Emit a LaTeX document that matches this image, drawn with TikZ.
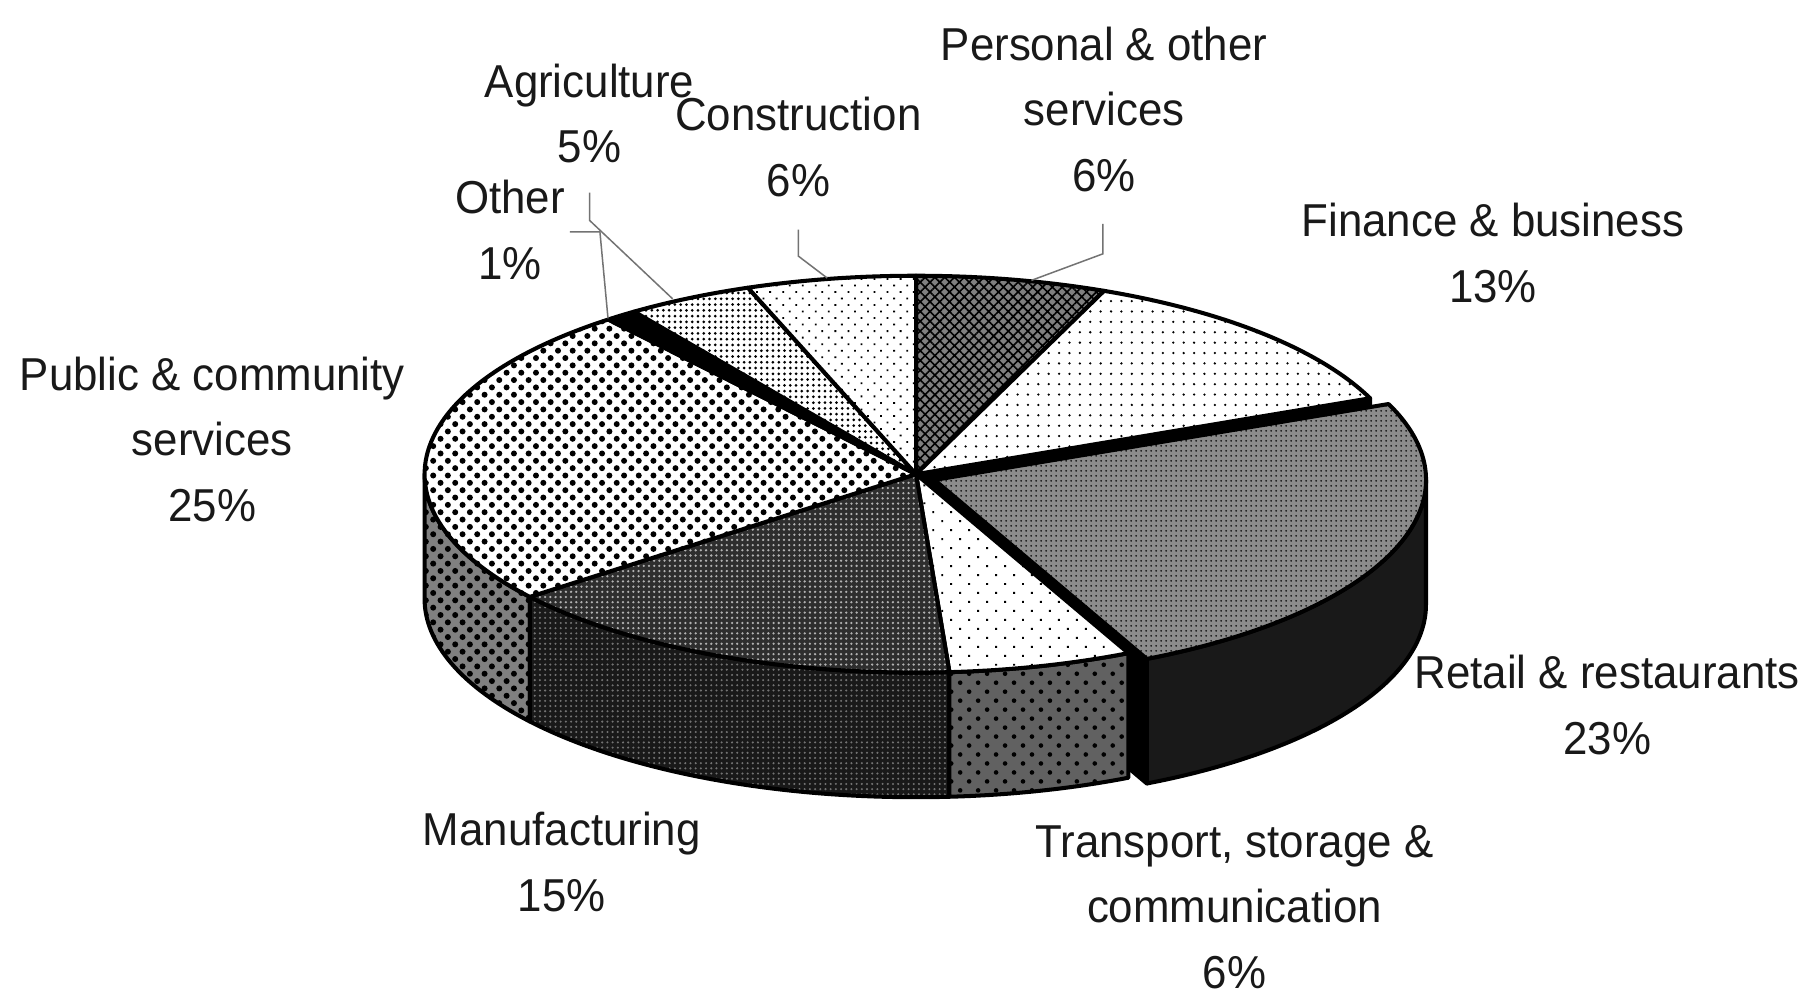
\documentclass[tikz,border=0pt]{standalone}
\usepackage{fontspec}
\newfontfamily\lblfont[FakeStretch=0.95]{Liberation Sans}
\usetikzlibrary{calc,patterns.meta}
\newcommand\topwedge[4]{%
  \path[#1] (#2) -- ($(#2)+(#3:426pt and 172pt)$)
    arc[start angle=#3, end angle=#4, x radius=426pt, y radius=172pt] -- cycle;}
\newcommand\sidewall[4]{%
  \path[#1] ($(#2)+(#3:426pt and 172pt)$)
    arc[start angle=#3, end angle=#4, x radius=426pt, y radius=172pt]
    -- ++(0,-108pt)
    arc[start angle=#4, end angle=#3, x radius=426pt, y radius=172pt] -- cycle;}
\newcommand\radface[3]{%
  \path[#1] (#2) -- ($(#2)+(#3:426pt and 172pt)$) -- ++(0,-108pt)
    -- ($(#2)+(0,-108pt)$) -- cycle;}
\begin{document}
\begin{tikzpicture}[x=1pt,y=1pt,
  pieline/.style={draw=black, line width=3.5pt, line join=round},
  lbl/.style={font=\lblfont\fontsize{40pt}{57pt}\selectfont, align=center, inner sep=0pt, anchor=north, text=black!90},
  leader/.style={draw=black!55, line width=1.3pt},
  sOther/.style={pieline, fill=black},
  sAgri/.style={pieline, preaction={fill=white}, preaction={pattern={Dots[distance=5pt,radius=1.3pt]}, pattern color=black}},
  sConstr/.style={pieline, preaction={fill=white}, preaction={pattern={Dots[distance=8pt,radius=1.1pt,angle=45]}, pattern color=black}},
  sPers/.style={pieline, preaction={fill=black!50}, preaction={pattern={Hatch[distance=6pt,angle=45,line width=1.4pt]}, pattern color=black}},
  sFin/.style={pieline, preaction={fill=white}, preaction={pattern={Dots[distance=9pt,radius=1.1pt]}, pattern color=black}},
  sRetail/.style={pieline, preaction={fill=black!45}, preaction={pattern={Dots[distance=4pt,radius=0.9pt]}, pattern color=black}},
  sTrans/.style={pieline, preaction={fill=white}, preaction={pattern={Dots[distance=11pt,radius=1.2pt,angle=45]}, pattern color=black}},
  sManuf/.style={pieline, preaction={fill=black!82}, preaction={pattern={Dots[distance=4.5pt,radius=1.1pt]}, pattern color=white!70!black}},
  sPublic/.style={pieline, preaction={fill=white}, preaction={pattern={Dots[distance=9pt,radius=2.6pt,angle=45]}, pattern color=black}},
  wPublic/.style={pieline, preaction={fill=black!50}, preaction={pattern={Dots[distance=9pt,radius=2.6pt,angle=45]}, pattern color=black}},
  wManuf/.style={pieline, preaction={fill=black!90}, preaction={pattern={Dots[distance=4.5pt,radius=1pt]}, pattern color=black!55}},
  wTrans/.style={pieline, preaction={fill=black!62}, preaction={pattern={Dots[distance=11pt,radius=2pt,angle=45]}, pattern color=black}},
  wRetail/.style={pieline, fill=black!90},
  wFace/.style={pieline, fill=black}
]
\useasboundingbox (0,0) rectangle (1568,-864);
\fill[white] (0,0) rectangle (1568,-864);
\coordinate (C) at (794,-411);
\coordinate (Cr) at (810,-416);

% exposed face of finance
\radface{wFace}{C}{22.5}
% exploded retail slice
\sidewall{wRetail}{Cr}{0}{-64.4}
\radface{wFace}{Cr}{-64.4}
\topwedge{sRetail}{Cr}{22.5}{-64.4}
% side walls
\sidewall{wPublic}{C}{-141.8}{-180}
\sidewall{wManuf}{C}{-86.1}{-141.8}
\sidewall{wTrans}{C}{-64.4}{-86.1}
% tops
\topwedge{sPers}{C}{90}{67.5}
\topwedge{sFin}{C}{67.5}{22.5}
\topwedge{sTrans}{C}{-64.4}{-86.1}
\topwedge{sManuf}{C}{-86.1}{-141.8}
\topwedge{sPublic}{C}{-141.8}{-231.2}
\topwedge{sOther}{C}{128.8}{125}
\topwedge{sAgri}{C}{125}{110}
\topwedge{sConstr}{C}{110}{90}

% labels
\node[lbl] (pers) at (957,-23) {Personal \& other\\services\\6\%};
\node[lbl] (agri) at (511,-55) {Agriculture\\5\%};
\node[lbl] (constr) at (692,-84) {Construction\\6\%};
\node[lbl] (other) at (442,-156) {Other\\1\%};
\node[lbl] (fin) at (1294,-176) {Finance \& business\\13\%};
\node[lbl] (public) at (184,-309) {Public \& community\\services\\25\%};
\node[lbl] (retail) at (1393,-568) {Retail \& restaurants\\23\%};
\node[lbl] (manuf) at (487,-704) {Manufacturing\\15\%};
\node[lbl] (trans) at (1070,-715) {Transport, storage \&\\communication\\6\%};

% leaders
\coordinate (agA) at (511,-167); \coordinate (agB) at (511,-191); \coordinate (agC) at (583,-259);
\coordinate (otA) at (494,-201); \coordinate (otB) at (520,-201); \coordinate (otC) at (527,-276);
\coordinate (coA) at (692,-199); \coordinate (coB) at (692,-222); \coordinate (coC) at (717,-241);
\coordinate (peA) at (956,-194); \coordinate (peB) at (956,-220); \coordinate (peC) at (894,-243);
\draw[leader] (agA) -- (agB) -- (agC);
\draw[leader] (otA) -- (otB) -- (otC);
\draw[leader] (coA) -- (coB) -- (coC);
\draw[leader] (peA) -- (peB) -- (peC);
\end{tikzpicture}
\end{document}
